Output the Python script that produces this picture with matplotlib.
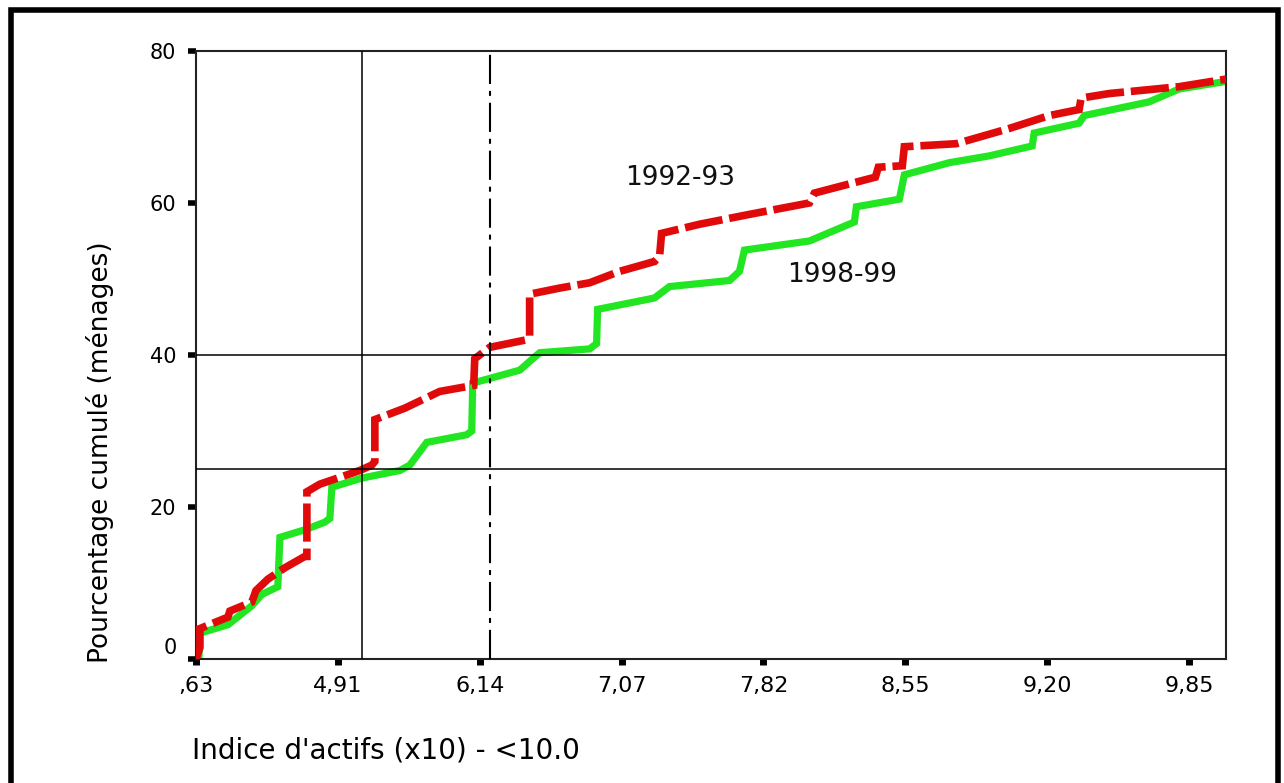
import matplotlib
matplotlib.use("Agg")
import matplotlib.pyplot as plt
from matplotlib.patches import Rectangle
from matplotlib.transforms import ScaledTranslation
import numpy as np

plt.rcParams['font.family'] = ['DejaVu Sans']

# x axis is an ordinal scale: tick i sits at position i
tick_labels = [',63', '4,91', '6,14', '7,07', '7,82', '8,55', '9,20', '9,85']
x_max = 7.26

# cumulative % of households, 1992-93 (position on ordinal scale, percent)
x_9293 = [0.0, 0.028, 0.028, 0.225, 0.239, 0.394, 0.423, 0.507, 0.627, 0.768, 0.782,
          0.782, 0.873, 1.155, 1.239, 1.261, 1.261, 1.472, 1.718, 1.958, 1.965, 2.070,
          2.331, 2.352, 2.352, 2.563, 2.775, 2.986, 3.232, 3.268, 3.282, 3.549, 3.901,
          4.324, 4.359, 4.789, 4.810, 4.979, 4.993, 5.359, 5.732, 6.014, 6.225, 6.239,
          6.437, 6.930, 7.261]
y_9293 = [0.0, 1.5, 4.0, 5.5, 6.3, 7.5, 9.0, 10.5, 12.0, 13.5, 13.5,
          22.0, 23.0, 24.8, 25.5, 26.0, 31.5, 33.0, 35.2, 36.0, 39.5, 41.0,
          42.0, 42.5, 48.0, 48.8, 49.5, 51.0, 52.3, 53.0, 56.0, 57.2, 58.5,
          60.0, 61.3, 63.4, 64.7, 64.9, 67.4, 67.8, 69.8, 71.5, 72.3, 73.8,
          74.4, 75.3, 76.3]

# cumulative % of households, 1998-99
x_9899 = [0.0, 0.021, 0.028, 0.225, 0.394, 0.465, 0.577, 0.592, 0.768, 0.908, 0.944,
          0.958, 1.169, 1.437, 1.507, 1.627, 1.908, 1.944, 1.951, 2.282, 2.423, 2.775,
          2.824, 2.831, 3.232, 3.338, 3.761, 3.831, 3.866, 4.324, 4.641, 4.655, 4.958,
          4.993, 5.310, 5.592, 5.894, 5.908, 6.225, 6.261, 6.718, 6.930, 7.261]
y_9899 = [0.0, 0.0, 3.4, 4.5, 7.0, 8.5, 9.5, 16.0, 17.0, 18.0, 18.5,
          22.6, 23.8, 24.8, 25.5, 28.5, 29.5, 30.0, 36.3, 38.0, 40.3, 40.8,
          41.5, 46.0, 47.5, 49.0, 49.8, 51.0, 53.8, 55.0, 57.5, 59.5, 60.5,
          63.7, 65.3, 66.2, 67.5, 69.2, 70.5, 71.5, 73.3, 75.0, 76.0]

# reference lines
h_lines = [40, 25]
v_solid = 1.17
v_dashdot = 2.07

fig = plt.figure(figsize=(12.84, 7.83), dpi=100)
ax = fig.add_axes([0.1526, 0.1584, 0.8022, 0.7765])

ax.plot(x_9899, y_9899, color='#22e622', lw=5.2, solid_joinstyle='miter', zorder=2)
ax.plot(x_9293, y_9293, color='#e00a0a', lw=5.5, linestyle=(0, (5, 0.9)),
        dash_joinstyle='miter', zorder=3)

for h in h_lines:
    ax.axhline(h, color='black', lw=1.1, zorder=4)
ax.axvline(v_solid, color='black', lw=1.1, zorder=4)
ax.axvline(v_dashdot, color='black', lw=1.5, linestyle=(0, (14, 3.3, 2.4, 3.3)), zorder=4)

ax.text(3.415, 63.3, '1992-93', fontsize=19, color='#111111', ha='center', va='center')
ax.text(4.556, 50.5, '1998-99', fontsize=19, color='#111111', ha='center', va='center')

ax.set_xlim(0, x_max)
ax.set_ylim(0, 80)
ax.set_xticks(np.arange(len(tick_labels)))
ax.set_xticklabels(tick_labels)
ax.set_yticks([0, 20, 40, 60, 80])

for s in ax.spines.values():
    s.set_linewidth(1.5)
    s.set_color('#222222')
ax.tick_params(axis='y', direction='out', length=6, width=4, pad=8, labelsize=15)
ax.tick_params(axis='x', direction='out', length=4, width=5, pad=8, labelsize=16)

# the "0" label sits a bit above its tick in the original
lbl0 = ax.yaxis.get_major_ticks()[0].label1
lbl0.set_transform(lbl0.get_transform() + ScaledTranslation(0, 0.13, fig.dpi_scale_trans))

fig.text(100 / 1284, 1 - 452 / 783, 'Pourcentage cumulé (ménages)', rotation=90,
         fontsize=19, ha='center', va='center')
fig.text(192 / 1284, 1 - 750 / 783, "Indice d'actifs (x10) - <10.0",
         fontsize=20, ha='left', va='center')

# outer frame
fig.patches.append(Rectangle((11 / 1284, -0.05), 1267 / 1284, 1.05 - 10 / 783,
                             transform=fig.transFigure, fill=False, lw=4,
                             edgecolor='black', clip_on=False))

fig.savefig('out.png', dpi=100)
